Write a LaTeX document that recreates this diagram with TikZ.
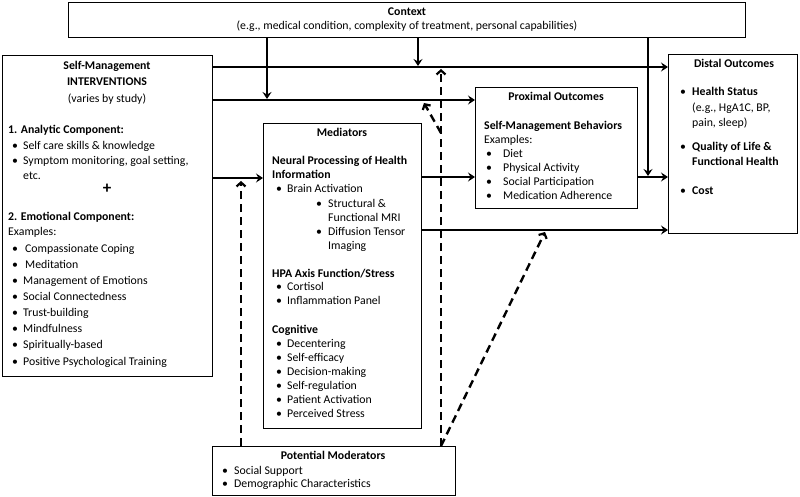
\documentclass[tikz,border=0pt]{standalone}
\usepackage{fontspec}
\setmainfont{Carlito}
\usetikzlibrary{arrows.meta,calc}
\tikzset{
  box/.style={draw=black,line width=1.4pt,rectangle,anchor=north west,inner sep=0pt,fill=white},
  txt/.style={inner sep=0pt,text height=8pt,text depth=2.5pt,font=\fontsize{11.8}{14}\selectfont},
  bold/.style={txt,font=\fontsize{11.8}{14}\selectfont\bfseries},
  arr/.style={line width=2.2pt,-{Stealth[length=7pt,width=9pt,inset=2.5pt]}},
  darr/.style={line width=2.4pt,dash pattern=on 8pt off 5pt,-{Straight Barb[length=4pt,width=9pt,line width=2.2pt]}}
}
\newcommand\tl[5][txt]{\node[#1,anchor=west] (#2) at (#3,#4) {#5};}
\newcommand\bl[6]{\node[txt,anchor=west] (#1) at (#2,#4) {\makebox[\dimexpr#3pt-#2pt\relax][l]{•}#5#6};}
\begin{document}
\begin{tikzpicture}[x=1pt,y=-1pt]
\useasboundingbox (0,0) rectangle (800,497);
% boxes
\node[box,minimum width=677pt,minimum height=35pt] (ctx) at (68,2) {};
\node[box,minimum width=210pt,minimum height=321pt] (interv) at (2,55) {};
\node[box,minimum width=158pt,minimum height=305pt] (med) at (263,123) {};
\node[box,minimum width=162pt,minimum height=121pt] (prox) at (475,87) {};
\node[box,minimum width=129pt,minimum height=179pt] (dist) at (668,54) {};
\node[box,minimum width=243pt,minimum height=49pt] (mod) at (212,446) {};
% context
\node[bold] (ctxT) at (407,13) {Context};
\node[txt] (ctxS) at (407,27) {(e.g., medical condition, complexity of treatment, personal capabilities)};
% interventions
\node[bold] (iT1) at (107,67) {Self-Management};
\node[bold] (iT2) at (107,83) {INTERVENTIONS};
\node[txt] (iT3) at (107,100) {(varies by study)};
\tl[bold]{iA}{8}{131}{1. Analytic Component:}
\bl{iA1}{12}{23}{147}{}{Self care skills \& knowledge}
\bl{iA2}{12}{23}{162}{}{Symptom monitoring, goal setting,}
\tl{iA3}{23}{177}{etc.}
\node[inner sep=0pt,font=\fontsize{17}{17}\selectfont\bfseries] (plus) at (107,189) {+};
\tl[bold]{iE}{8}{218}{2. Emotional Component:}
\tl{iEx}{8}{233}{Examples:}
\bl{iE1}{12}{25}{250}{}{Compassionate Coping}
\bl{iE2}{12}{25}{266}{}{Meditation}
\bl{iE3}{12}{23}{282}{}{Management of Emotions}
\bl{iE4}{12}{23}{298}{}{Social Connectedness}
\bl{iE5}{12}{23}{314}{}{Trust-building}
\bl{iE6}{12}{23}{330}{}{Mindfulness}
\bl{iE7}{12}{23}{346}{}{Spiritually-based}
\bl{iE8}{12}{23}{363}{}{Positive Psychological Training}
% mediators
\node[bold] (mT) at (342,134) {Mediators};
\tl[bold]{mN1}{272}{162}{Neural Processing of Health}
\tl[bold]{mN2}{272}{176}{Information}
\bl{mB}{276}{287}{190}{}{Brain Activation}
\bl{mB1}{316}{328}{205}{}{Structural \&}
\tl{mB2}{328}{219}{Functional MRI}
\bl{mB3}{316}{328}{233}{}{Diffusion Tensor}
\tl{mB4}{328}{247}{Imaging}
\tl[bold]{mH}{272}{275}{HPA Axis Function/Stress}
\bl{mH1}{276}{287}{288}{}{Cortisol}
\bl{mH2}{276}{287}{302}{}{Inflammation Panel}
\tl[bold]{mC}{272}{331}{Cognitive}
\bl{mC1}{276}{287}{345}{}{Decentering}
\bl{mC2}{276}{287}{359}{}{Self-efficacy}
\bl{mC3}{276}{287}{373}{}{Decision-making}
\bl{mC4}{276}{287}{387}{}{Self-regulation}
\bl{mC5}{276}{287}{401}{}{Patient Activation}
\bl{mC6}{276}{287}{415}{}{Perceived Stress}
% proximal
\node[bold] (pT) at (556,98) {Proximal Outcomes};
\tl[bold]{pS}{484}{127}{Self-Management Behaviors}
\tl{pEx}{484}{141}{Examples:}
\bl{p1}{486}{503}{155}{}{Diet}
\bl{p2}{486}{503}{169}{}{Physical Activity}
\bl{p3}{486}{503}{183}{}{Social Participation}
\bl{p4}{486}{503}{197}{}{Medication Adherence}
% distal
\node[bold] (dT) at (734,65) {Distal Outcomes};
\bl{d1}{680}{692}{93}{\bfseries}{Health Status}
\tl{d1b}{692}{109}{(e.g., HgA1C, BP,}
\tl{d1c}{692}{124}{pain, sleep)}
\bl{d2}{680}{692}{148}{\bfseries}{Quality of Life \&}
\tl[bold]{d2b}{692}{163}{Functional Health}
\bl{d3}{680}{692}{192}{\bfseries}{Cost}
% moderators
\node[bold] (moT) at (333,457) {Potential Moderators};
\bl{mo1}{222}{234}{472}{}{Social Support}
\bl{mo2}{222}{234}{485}{}{Demographic Characteristics}
% solid connectors
\draw[arr] (interv.east |- 0,67) -- (dist.west |- 0,67);
\draw[arr] (interv.east |- 0,100) -- (prox.west |- 0,100);
\draw[arr] (interv.east |- 0,178) -- (med.west |- 0,178);
\draw[arr] (med.east |- 0,177) -- (prox.west |- 0,177);
\draw[arr] (med.east |- 0,230) -- (dist.west |- 0,230);
\draw[arr] (prox.east |- 0,177) -- (dist.west |- 0,177);
\coordinate (c1) at (267,99);
\coordinate (c2) at (418,66);
\coordinate (c3) at (648,176);
\draw[arr] (ctx.south -| c1) -- (c1);
\draw[arr] (ctx.south -| c2) -- (c2);
\draw[arr] (ctx.south -| c3) -- (c3);
% dashed connectors
\coordinate (e1) at (241,181);
\coordinate (e2) at (441,69);
\coordinate (e3s) at (441,133);
\coordinate (e3) at (424,103);
\coordinate (e4) at (545,232);
\draw[darr] (mod.north -| e1) -- (e1);
\draw[darr] (mod.north -| e2) -- (e2);
\draw[darr] (e3s) -- (e3);
\draw[darr] (mod.north -| e2) -- (e4);
\end{tikzpicture}
\end{document}
